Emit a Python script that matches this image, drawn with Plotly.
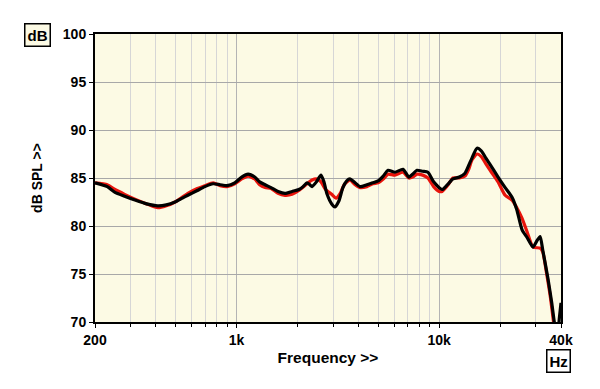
import plotly.graph_objects as go
import math

# Black trace (freq Hz, dB SPL)
black_freq = [200, 230, 251, 280, 315, 360, 409, 450, 497, 540, 575, 640, 698, 766, 830, 897, 980,
              1060, 1140, 1230, 1300, 1383, 1480, 1603, 1734, 1880, 2030, 2130, 2228, 2300, 2360,
              2480, 2612, 2700, 2800, 2950, 3063, 3200, 3350, 3500, 3631, 3800, 4074, 4400, 4700,
              5000, 5300, 5600, 6050, 6640, 7100, 7400, 7780, 8300, 8810, 9400, 10350, 11000,
              11720, 12600, 13430, 14000, 14550, 15390, 16200, 17000, 17880, 19560, 21200, 22920,
              24200, 25700, 27200, 29100, 30500, 31550, 32500, 34500, 36000, 37400, 38500, 39300, 40000]
black_db = [84.5, 84.1, 83.5, 83.1, 82.7, 82.3, 82.1, 82.2, 82.5, 82.9, 83.2, 83.7, 84.1, 84.4, 84.3, 84.2, 84.5,
            85.1, 85.4, 85.1, 84.6, 84.3, 84.0, 83.6, 83.4, 83.6, 83.8, 84.1, 84.5, 84.3, 84.1,
            84.6, 85.3, 84.6, 83.3, 82.3, 82.0, 82.6, 84.0, 84.7, 84.9, 84.6, 84.1, 84.3, 84.5,
            84.7, 85.2, 85.8, 85.6, 85.9, 85.1, 85.4, 85.8, 85.7, 85.6, 84.6, 83.8, 84.3,
            84.9, 85.1, 85.5, 86.3, 87.1, 88.1, 87.8, 87.1, 86.4, 85.1, 84.0, 83.0,
            81.7, 79.6, 78.8, 77.8, 78.5, 78.9, 77.5, 74.5, 72.0, 69.5, 68.8, 70.5, 72.0]

# Red trace
red_freq = [200, 230, 251, 280, 315, 360, 409, 450, 497, 540, 575, 640, 698, 766, 830, 897, 980,
            1060, 1140, 1230, 1300, 1383, 1480, 1603, 1734, 1880, 2030, 2228, 2360, 2500, 2612,
            2750, 2950, 3100, 3250, 3400, 3631, 3800, 4074, 4400, 4700, 5000, 5300, 5600, 6050,
            6640, 7100, 7400, 7780, 8300, 8810, 9400, 10000, 10350, 11000, 11720, 12600, 13430,
            14000, 14550, 15390, 16200, 17000, 17880, 19560, 21200, 22920, 24200, 25700, 27200,
            29100, 31550, 32500, 34000, 35500, 37000, 38500]
red_db = [84.5, 84.3, 83.8, 83.3, 82.8, 82.3, 81.9, 82.1, 82.5, 83.0, 83.4, 83.9, 84.2, 84.5, 84.2, 84.1, 84.4,
          84.9, 85.2, 84.9, 84.3, 84.0, 83.9, 83.4, 83.2, 83.3, 83.7, 84.4, 84.8, 84.9, 84.6,
          83.8, 83.3, 82.9, 83.4, 84.3, 84.8, 84.4, 84.0, 84.1, 84.4, 84.5, 84.9, 85.4, 85.3,
          85.6, 85.0, 85.1, 85.4, 85.3, 85.0, 84.1, 83.6, 83.6, 84.2, 85.0, 85.0, 85.2,
          85.9, 86.9, 87.5, 87.2, 86.5, 85.8, 84.6, 83.2, 82.7, 81.9, 80.8, 79.4,
          77.8, 77.7, 77.3, 75.0, 72.5, 69.5, 67.0]

major_ticks = [200, 1000, 10000, 40000]
major_labels = ["200", "1k", "10k", "40k"]
minor_ticks = [300, 400, 500, 600, 700, 800, 900, 2000, 3000, 4000, 5000, 6000, 7000, 8000,
               9000, 20000, 30000]
y_ticks = [70, 75, 80, 85, 90, 95, 100]

FONT = "Arial, Liberation Sans, sans-serif"

fig = go.Figure()
fig.add_trace(go.Scatter(x=red_freq, y=red_db, mode="lines",
                         line=dict(color="#e8140c", width=3.2, shape="spline", smoothing=0.6),
                         showlegend=False))
fig.add_trace(go.Scatter(x=black_freq, y=black_db, mode="lines",
                         line=dict(color="#000000", width=3.2, shape="spline", smoothing=0.6),
                         showlegend=False))

fig.update_layout(
    width=592, height=381,
    margin=dict(l=87, r=39, t=26, b=67),
    paper_bgcolor="white",
    plot_bgcolor="#FCFAE4",
    font=dict(family=FONT, color="black"),
    xaxis=dict(
        type="log",
        range=[math.log10(200), math.log10(40000)],
        tickvals=major_ticks, ticktext=major_labels,
        tickfont=dict(size=14, weight="bold"),
        ticks="outside", ticklen=4, tickcolor="black", tickwidth=1,
        showgrid=True, gridcolor="#b4b4b4", gridwidth=1,
        minor=dict(tickvals=minor_ticks, ticks="outside", ticklen=3, tickcolor="black",
                   showgrid=True, gridcolor="#d6d6d6", gridwidth=1),
        showline=True, linecolor="black", linewidth=2, mirror=True,
        zeroline=False,
        title=dict(text="Frequency >>", font=dict(size=15.5, weight="bold"), standoff=5),
    ),
    yaxis=dict(
        range=[70, 100],
        tickvals=y_ticks,
        tickfont=dict(size=14, weight="bold"),
        ticks="outside", ticklen=4, tickcolor="black", tickwidth=1,
        showgrid=True, gridcolor="#a8a8a8", gridwidth=1,
        showline=True, linecolor="black", linewidth=2, mirror=True,
        zeroline=False,
        title=dict(text="dB SPL >>", font=dict(size=14, weight="bold"), standoff=17),
    ),
    annotations=[
        dict(text="dB", xref="paper", yref="paper", x=(37.5 - 95) / 466, y=(322 - 35) / 288,
             showarrow=False, font=dict(size=15, weight="bold", family=FONT),
             bgcolor="#FCFAE4", bordercolor="black", borderwidth=1.5, borderpad=2,
             xanchor="center", yanchor="middle"),
        dict(text="Hz", xref="paper", yref="paper", x=(558 - 95) / 466, y=(322 - 361) / 288,
             showarrow=False, font=dict(size=15, weight="bold", family=FONT),
             bgcolor="white", bordercolor="black", borderwidth=1.5, borderpad=2,
             xanchor="center", yanchor="middle"),
    ],
)

fig.write_html("out.html")
